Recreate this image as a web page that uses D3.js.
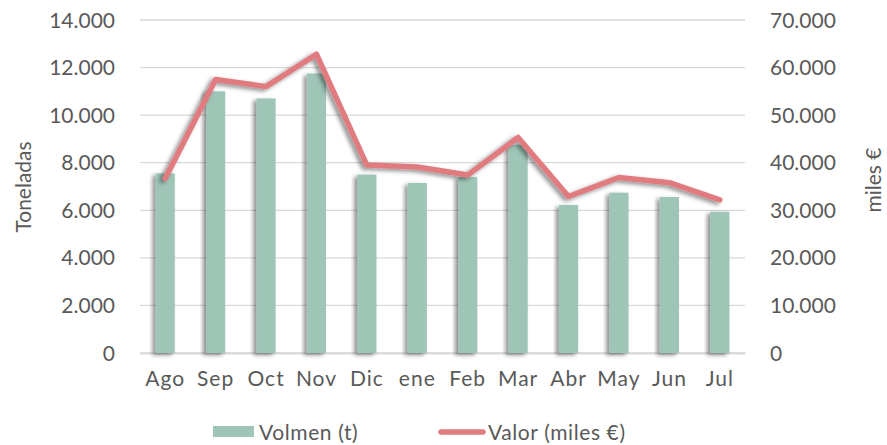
<!DOCTYPE html>
<meta charset="utf-8">
<head>
    <title>Volumen y valor</title>
    <style>
        body { margin: 0; background: #fff; }
        text { font-family: "Century Gothic", "Lato", "DejaVu Sans", sans-serif; fill: #595959; }
    </style>
</head>

<script src="https://d3js.org/d3.v7.min.js"></script>

<div id="dataVis"></div>

<script>

    // months and the two series
    var months = ["Ago", "Sep", "Oct", "Nov", "Dic", "ene", "Feb", "Mar", "Abr", "May", "Jun", "Jul"];
    var volumen = [7550, 11000, 10700, 11750, 7500, 7150, 7400, 8750, 6220, 6740, 6560, 5940];
    var valor = [36700, 57500, 56000, 62800, 39500, 39100, 37400, 45300, 32900, 36900, 35800, 32200];
    var leftTicks = [0, 2000, 4000, 6000, 8000, 10000, 12000, 14000];
    var rightTicks = [0, 10000, 20000, 30000, 40000, 50000, 60000, 70000];

    var width = 887, height = 445;
    var margin = { top: 20, right: 142, bottom: 92, left: 140 };

    var svg = d3.select("#dataVis")
        .append("svg")
        .attr("width", width)
        .attr("height", height);

    // soft shadow like the office chart
    var defs = svg.append("defs");
    var f = defs.append("filter").attr("id", "shadow")
        .attr("x", "-30%").attr("y", "-30%").attr("width", "160%").attr("height", "160%");
    f.append("feDropShadow")
        .attr("dx", -3).attr("dy", 2)
        .attr("stdDeviation", 2)
        .attr("flood-color", "#000")
        .attr("flood-opacity", 0.45);

    var x = d3.scaleBand()
        .domain(months)
        .range([margin.left, width - margin.right])
        .paddingInner(0.62)
        .paddingOuter(0.31);

    var yL = d3.scaleLinear().domain([0, 14000]).range([height - margin.bottom, margin.top]);
    var yR = d3.scaleLinear().domain([0, 70000]).range([height - margin.bottom, margin.top]);

    var fmt = function (v) { return d3.format(",")(v).replace(/,/g, "."); };

    // gridlines
    svg.append("g")
        .selectAll("line")
        .data(leftTicks)
        .enter()
        .append("line")
        .attr("x1", margin.left)
        .attr("x2", width - margin.right)
        .attr("y1", function (d) { return yL(d); })
        .attr("y2", function (d) { return yL(d); })
        .attr("stroke", "#d9d9d9")
        .attr("stroke-width", 1.3);

    // left axis
    var axL = svg.append("g")
        .attr("transform", "translate(" + (margin.left - 22) + ",0)")
        .call(d3.axisLeft(yL).tickValues(leftTicks).tickFormat(fmt).tickSize(0));
    axL.select(".domain").remove();
    axL.selectAll("text").style("font-size", "21px").attr("fill", "#595959").attr("dy", "0.34em");

    // right axis
    var axR = svg.append("g")
        .attr("transform", "translate(" + (width - margin.right + 22) + ",0)")
        .call(d3.axisRight(yR).tickValues(rightTicks).tickFormat(fmt).tickSize(0));
    axR.select(".domain").remove();
    axR.selectAll("text").style("font-size", "21px").attr("fill", "#595959").attr("dy", "0.34em");

    // bottom axis
    var axB = svg.append("g")
        .attr("transform", "translate(0," + (height - margin.bottom) + ")")
        .call(d3.axisBottom(x).tickSize(0).tickPadding(18));
    axB.select(".domain").attr("stroke", "#d9d9d9").attr("stroke-width", 2);
    axB.selectAll("text").style("font-size", "21px").style("letter-spacing", "1px").attr("fill", "#595959");

    // bars
    svg.append("g")
        .selectAll("rect")
        .data(months)
        .enter()
        .append("rect")
        .attr("x", function (d) { return x(d); })
        .attr("width", x.bandwidth())
        .attr("y", function (d, i) { return yL(volumen[i]); })
        .attr("height", function (d, i) { return yL(0) - yL(volumen[i]); })
        .attr("fill", "#9fc5b7")
        .attr("filter", "url(#shadow)");

    // value line
    var line = d3.line()
        .x(function (d, i) { return x(months[i]) + x.bandwidth() / 2; })
        .y(function (d) { return yR(d); });

    svg.append("path")
        .datum(valor)
        .attr("d", line)
        .attr("fill", "none")
        .attr("stroke", "#e07b80")
        .attr("stroke-width", 5.5)
        .attr("stroke-linejoin", "round")
        .attr("stroke-linecap", "round")
        .attr("filter", "url(#shadow)");

    // axis titles
    svg.append("text")
        .attr("transform", "translate(31,187) rotate(-90)")
        .attr("text-anchor", "middle")
        .style("font-size", "21px")
        .text("Toneladas");

    svg.append("text")
        .attr("transform", "translate(881,180) rotate(-90)")
        .attr("text-anchor", "middle")
        .style("font-size", "21px")
        .text("miles €");

    // legend
    var lg = svg.append("g");
    lg.append("rect")
        .attr("x", 213).attr("y", 426)
        .attr("width", 41).attr("height", 11)
        .attr("fill", "#9fc5b7");
    lg.append("text")
        .attr("x", 259).attr("y", 440)
        .style("font-size", "21px")
        .style("letter-spacing", "0.6px")
        .text("Volmen (t)");
    lg.append("line")
        .attr("x1", 441).attr("x2", 483)
        .attr("y1", 432).attr("y2", 432)
        .attr("stroke", "#e07b80")
        .attr("stroke-width", 5.5)
        .attr("stroke-linecap", "round");
    lg.append("text")
        .attr("x", 488).attr("y", 440)
        .style("font-size", "21px")
        .style("letter-spacing", "0.6px")
        .text("Valor (miles €)");

</script>
